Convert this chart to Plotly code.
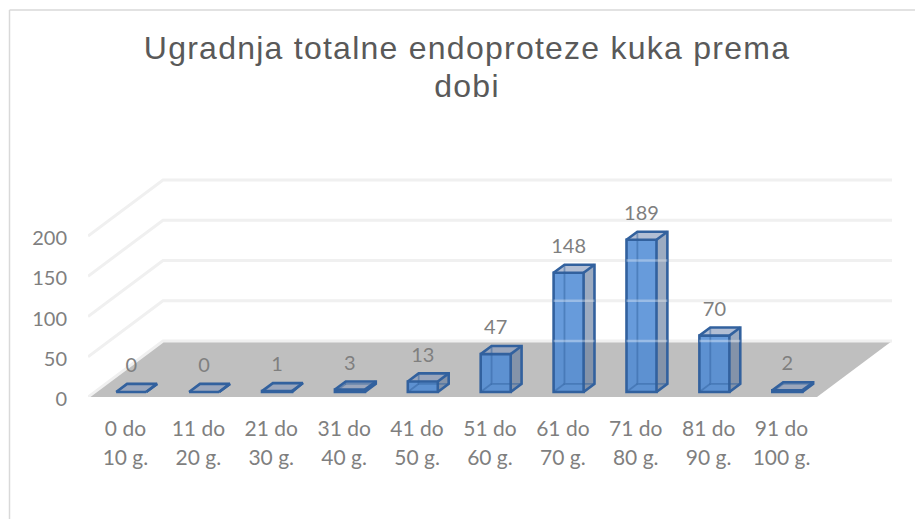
import plotly.graph_objects as go

TITLE_LINES = ["Ugradnja totalne endoproteze kuka prema", "dobi"]
CATEGORY_TOP = ["0 do", "11 do", "21 do", "31 do", "41 do", "51 do", "61 do", "71 do", "81 do", "91 do"]
CATEGORY_BOTTOM = ["10 g.", "20 g.", "30 g.", "40 g.", "50 g.", "60 g.", "70 g.", "80 g.", "90 g.", "100 g."]
VALUES = [0, 0, 1, 3, 13, 47, 148, 189, 70, 2]
Y_TICKS = [0, 50, 100, 150, 200]

W, H = 915, 519
L, R, T, B = 88, 900, 165, 397
PX_CAT = 72.9
PX_VAL = 0.805
DEPTH_DX = 75 / PX_CAT
DEPTH_DY = 56 / PX_VAL
N = len(VALUES)
XMIN = -0.5
XMAX = XMIN + (R - L) / PX_CAT
YMAX = (B - T) / PX_VAL

BAR_W = 30 / PX_CAT
D0, D1 = 0.09, 0.235   # front and back of bar, as fractions of floor depth
BLUE_EDGE = "#32619E"
INNER = "rgba(47,95,155,0.45)"
EDGE_W = 2.6
fig = go.Figure()


def proj(x, v, d):
    return x + d * DEPTH_DX, v + d * DEPTH_DY


def poly(points, fill=None, line=None, width=0, z=0, mode="lines"):
    xs = [p[0] for p in points]
    ys = [p[1] for p in points]
    fig.add_trace(go.Scatter(
        x=xs, y=ys, mode=mode, fill="toself" if fill else None,
        fillcolor=fill, line=dict(color=line or "rgba(0,0,0,0)", width=width),
        hoverinfo="skip", showlegend=False, zorder=z))


# floor
e0, e1 = XMIN, XMIN + N
poly([proj(e0, 0, 0), proj(e0, 0, 1), proj(e1, 0, 1), proj(e1, 0, 0), proj(e0, 0, 0)],
     fill="#BFBFBF", z=-5)
# wall gridlines
for v in Y_TICKS:
    poly([proj(e0, v, 0), proj(e0, v, 1), proj(e1, v, 1)], line="#F0F0F0", width=3, z=-4)

# bars: side and top faces, edges
xc = []
for i, v in enumerate(VALUES):
    lft = i - BAR_W / 2
    rgt = i + BAR_W / 2
    a = proj
    xc.append(a(i, 0, D0)[0])
    poly([a(rgt, 0, D0), a(rgt, 0, D1), a(rgt, v, D1), a(rgt, v, D0), a(rgt, 0, D0)],
         fill="rgba(95,120,155,0.62)", z=-3)
    poly([a(lft, v, D0), a(lft, v, D1), a(rgt, v, D1), a(rgt, v, D0), a(lft, v, D0)],
         fill="rgba(130,150,185,0.62)", z=-3)
    poly([a(lft, v, D1), a(lft, 0, D1), a(rgt, 0, D1)], line=INNER, width=1.8, z=1)
    poly([a(lft, 0, D1), a(lft, 0, D0)], line=INNER, width=1.8, z=1)
    poly([a(rgt, 0, D0), a(rgt, 0, D1), a(rgt, v, D1), a(lft, v, D1), a(lft, v, D0)],
         line=BLUE_EDGE, width=EDGE_W, z=2)
    poly([a(rgt, v, D1), a(rgt, v, D0)], line=BLUE_EDGE, width=EDGE_W, z=2)

base = proj(0, 0, D0)[1]
fig.add_trace(go.Bar(
    x=xc, y=VALUES, base=base, width=BAR_W,
    marker=dict(color="rgba(74,136,212,0.84)", line=dict(color=BLUE_EDGE, width=EDGE_W)),
    hoverinfo="skip", showlegend=False, zorder=1))

# wall gridlines seen through the translucent bars
for i, v in enumerate(VALUES):
    bar_left = proj(i - BAR_W / 2, 0, D0)[0]
    bar_right = proj(i + BAR_W / 2, 0, D1)[0]
    for t in Y_TICKS:
        level = proj(0, t, 1)[1]
        if level < v + base:
            poly([(bar_left, level), (bar_right, level)],
                 line="rgba(255,255,255,0.35)", width=2.4, z=3)

# data labels
fig.add_trace(go.Scatter(
    x=xc, y=[v + base + 25 / PX_VAL for v in VALUES], mode="text",
    text=[str(v) for v in VALUES], textposition="middle center",
    textfont=dict(family="Lato", size=20, color="#7F7F7F"),
    hoverinfo="skip", showlegend=False, zorder=4))

tick_span = '<span style="font-size:21px">{}</span>'
title_span = '<span style="font-size:32px;letter-spacing:1.25px">{}</span>'
fig.update_layout(
    width=W, height=H, autosize=False, showlegend=False,
    paper_bgcolor="white", plot_bgcolor="rgba(0,0,0,0)",
    margin=dict(l=L, r=W - R, t=T, b=H - B),
    barmode="overlay",
    title=dict(
        text="<br>".join(title_span.format(s) for s in TITLE_LINES),
        x=467 / W, xanchor="center", y=1 - 59 / H, yanchor="top",
        font=dict(family="Liberation Sans", size=29.3, color="#595959")),
    xaxis=dict(
        range=[XMIN, XMAX], tickmode="array", tickvals=list(range(N)),
        ticktext=[tick_span.format(a) + "<br>" + tick_span.format(b)
                  for a, b in zip(CATEGORY_TOP, CATEGORY_BOTTOM)],
        tickfont=dict(family="Lato", size=22, color="#7F7F7F"),
        showgrid=False, zeroline=False, showline=False, ticks="",
        ticklabelstandoff=16, ticklabelshift=1, fixedrange=True),
    yaxis=dict(
        range=[0, YMAX], tickmode="array", tickvals=Y_TICKS,
        tickfont=dict(family="Lato", size=20, color="#7F7F7F"),
        showgrid=False, zeroline=False, showline=False, ticks="",
        ticklabelstandoff=20, ticklabelshift=2, fixedrange=True),
    shapes=[
        dict(type="line", xref="paper", yref="paper", layer="below",
             x0=(9.5 - L) / (R - L), x1=(W - L) / (R - L),
             y0=(B - 10) / (B - T), y1=(B - 10) / (B - T),
             line=dict(color="#D9D9D9", width=1.5)),
        dict(type="line", xref="paper", yref="paper", layer="below",
             x0=(9.5 - L) / (R - L), x1=(9.5 - L) / (R - L),
             y0=(B - H) / (B - T), y1=(B - 10) / (B - T),
             line=dict(color="#D9D9D9", width=1.5)),
    ],
)
fig.write_html("out.html", config={"displayModeBar": False},
               post_script="document.body.style.margin='0';")
